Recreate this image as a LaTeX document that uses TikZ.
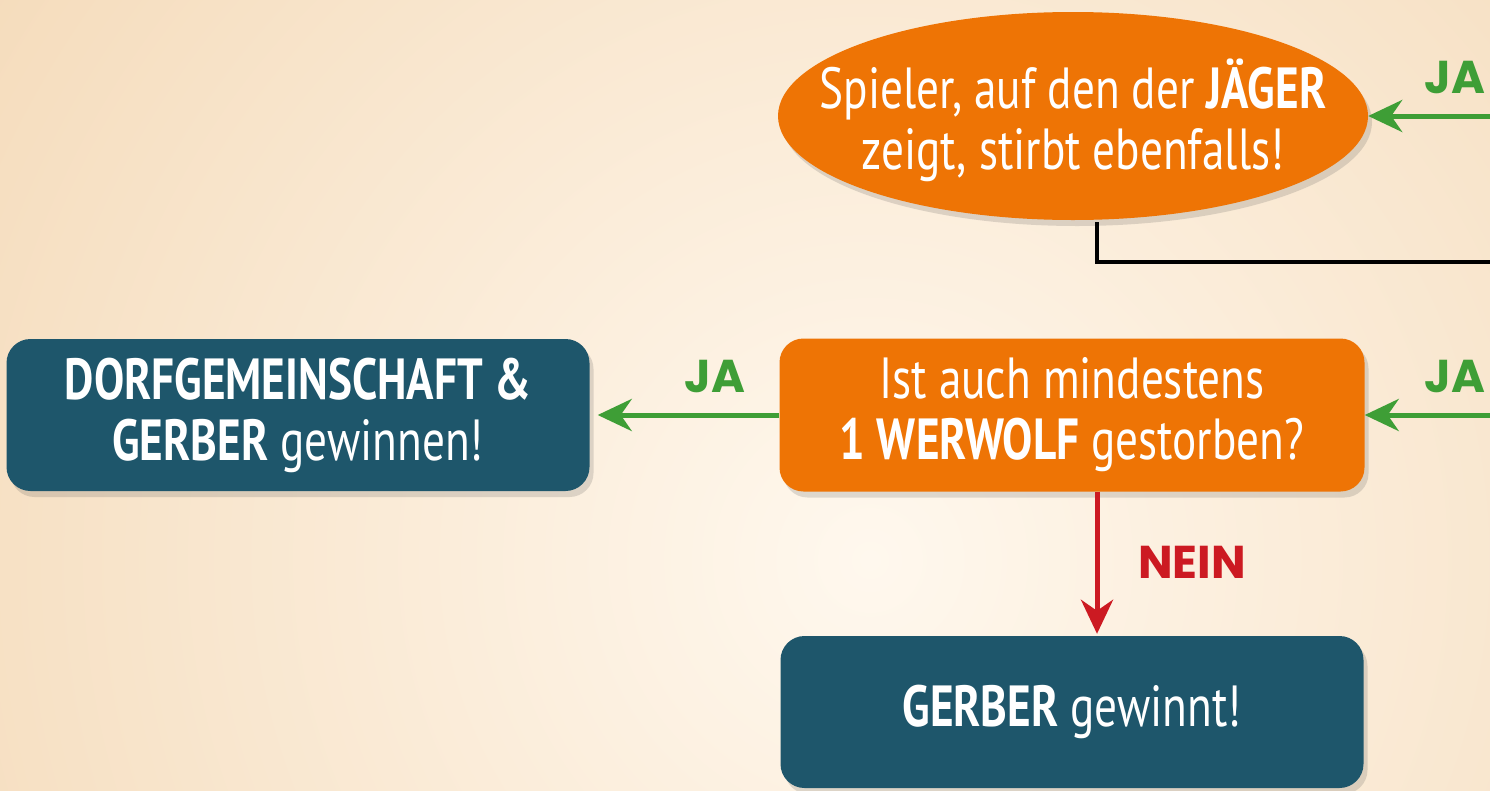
\documentclass[tikz,border=0pt]{standalone}
\usepackage{fontspec}
\setmainfont{PT Sans}[FakeStretch=0.78]
\newfontfamily\lblfont{Poppins}
\usetikzlibrary{arrows.meta,shapes.geometric,shadows}
\definecolor{bgcream}{HTML}{F9E7CF}
\definecolor{bgpeach}{HTML}{F5DCBC}
\definecolor{bglight}{HTML}{FFF8EE}
\definecolor{orangebox}{HTML}{EE7405}
\definecolor{tealbox}{HTML}{1E566B}
\definecolor{greenarr}{HTML}{3E9E36}
\definecolor{redarr}{HTML}{CC1A22}
\tikzset{
  boxshadow/.style={drop shadow={shadow xshift=4pt,shadow yshift=-6pt,opacity=0.18,fill=black!70}},
  boxtext/.style={font=\fontsize{58}{61}\selectfont},
  orangerect/.style={rectangle,rounded corners=24pt,fill=orangebox,text=white,minimum width=585pt,minimum height=153pt,align=center,inner sep=0pt,boxshadow,boxtext},
  orangeell/.style={ellipse,fill=orangebox,minimum width=590pt,minimum height=208pt,inner sep=0pt,boxshadow},
  elltext/.style={text=white,align=center,inner sep=0pt,boxtext},
  tealrect/.style={rectangle,rounded corners=24pt,fill=tealbox,text=white,minimum width=583pt,minimum height=152pt,align=center,inner sep=0pt,boxshadow,boxtext},
  greenline/.style={draw=greenarr,line width=5pt,-{Stealth[length=34pt,width=32pt,inset=11pt]}},
  redline/.style={draw=redarr,line width=5pt,-{Stealth[length=34pt,width=32pt,inset=11pt]}},
  blackline/.style={draw=black,line width=4.5pt},
  jalabel/.style={text=greenarr,font=\lblfont\bfseries\fontsize{46}{46}\selectfont,inner sep=0pt},
  neinlabel/.style={text=redarr,font=\lblfont\bfseries\fontsize{46}{46}\selectfont,inner sep=0pt},
}
\begin{document}
\begin{tikzpicture}[x=1pt,y=-1pt]
\useasboundingbox (0,0) rectangle (1490,790);
\fill[bgcream] (0,0) rectangle (1490,790);
\begin{scope}
\clip (0,0) rectangle (1490,790);
\shade[inner color=bglight,outer color=bgpeach] (870,560) circle (1050pt);
\end{scope}

\node[orangeell] (ell) at (1073,116) {};
\node[elltext] (elltxt) at ([yshift=-4pt]ell.center) {Spieler, auf den der \textbf{JÄGER}\\zeigt, stirbt ebenfalls!};
\node[orangerect] (frage) at (1072,415) {Ist auch mindestens\\\textbf{1 WERWOLF} gestorben?};
\node[tealrect] (dorf) at (298,415) {\textbf{DORFGEMEINSCHAFT \&}\\\textbf{GERBER} gewinnen!};
\node[tealrect] (gerber) at (1072,712) {\textbf{GERBER} gewinnt!};

\coordinate (inT) at (1495,116);
\coordinate (inM) at (1495,415);
\coordinate (outR) at (1495,262);

\draw[blackline] ([xshift=24pt,yshift=-2pt]ell.south) |- (outR);
\draw[greenline] (inT) -- (ell.east);
\draw[greenline] (inM) -- (frage.east);
\draw[greenline,shorten >=8pt] (frage.west) -- (dorf.east);
\draw[redline,shorten >=2pt] ([xshift=25pt]frage.south) -- ([xshift=25pt]gerber.north);

\node[jalabel] (ja1) at (1455,78) {JA};
\node[jalabel] (ja2) at (1455,377) {JA};
\node[jalabel] (ja3) at (715,377) {JA};
\node[neinlabel] (nein) at (1192,562) {NEIN};
\end{tikzpicture}
\end{document}
